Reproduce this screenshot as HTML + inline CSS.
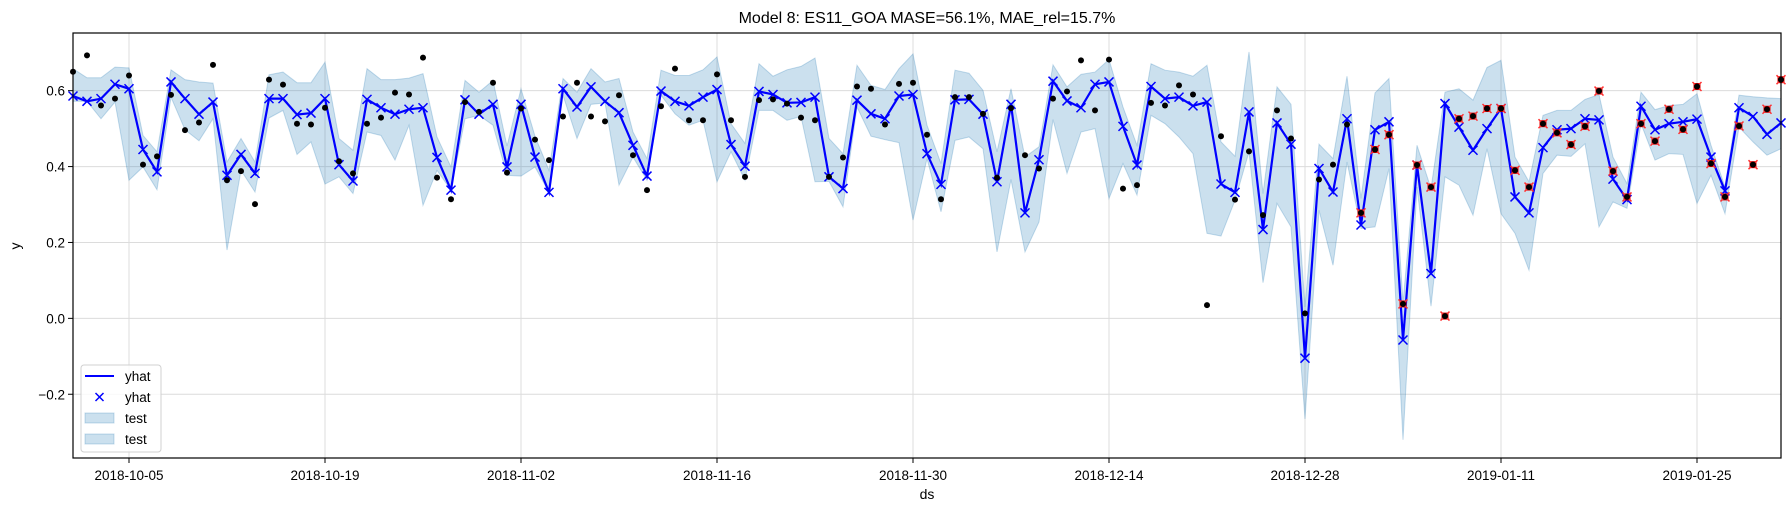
<!DOCTYPE html>
<html><head><meta charset="utf-8"><style>
body{margin:0;background:#fff;}
svg{display:block;font-family:"Liberation Sans","DejaVu Sans",sans-serif;}
</style></head><body>
<svg id="chart" width="1790" height="512" viewBox="0 0 1790 512" xmlns="http://www.w3.org/2000/svg">
<rect width="1790" height="512" fill="#fff"/>
<text x="927" y="23" text-anchor="middle" font-size="16" fill="#000">Model 8: ES11_GOA MASE=56.1%, MAE_rel=15.7%</text>
<text x="927" y="499" text-anchor="middle" font-size="14">ds</text>
<text x="20" y="246" text-anchor="middle" font-size="14" transform="rotate(-90 20 246)">y</text>
<g id="grid"></g><g id="band"></g><g id="line"></g><g id="pts"></g><g id="axes"></g>
</svg>
<script>
const startDate = "2018-10-01";
const yhat = [0.586,0.572,0.579,0.617,0.605,0.445,0.386,0.623,0.579,0.538,0.570,0.377,0.432,0.382,0.579,0.579,0.537,0.541,0.579,0.405,0.362,0.577,0.555,0.538,0.551,0.555,0.424,0.338,0.576,0.538,0.564,0.399,0.564,0.425,0.332,0.605,0.557,0.610,0.572,0.542,0.456,0.375,0.599,0.572,0.560,0.583,0.603,0.458,0.401,0.598,0.590,0.568,0.569,0.583,0.373,0.342,0.575,0.539,0.526,0.586,0.590,0.434,0.353,0.576,0.577,0.538,0.360,0.564,0.278,0.418,0.625,0.573,0.555,0.617,0.623,0.506,0.404,0.611,0.579,0.583,0.560,0.570,0.354,0.332,0.544,0.234,0.515,0.459,-0.105,0.395,0.333,0.526,0.246,0.497,0.518,-0.057,0.404,0.118,0.566,0.504,0.443,0.500,0.553,0.320,0.278,0.450,0.497,0.500,0.526,0.523,0.367,0.313,0.559,0.497,0.513,0.518,0.525,0.425,0.336,0.555,0.532,0.485,0.515];
const upper = [0.658,0.634,0.634,0.662,0.660,0.482,0.439,0.655,0.629,0.623,0.620,0.412,0.474,0.412,0.642,0.649,0.621,0.621,0.675,0.474,0.443,0.658,0.629,0.629,0.633,0.645,0.478,0.399,0.627,0.596,0.627,0.454,0.605,0.480,0.390,0.632,0.596,0.658,0.623,0.632,0.491,0.421,0.654,0.640,0.640,0.655,0.689,0.513,0.461,0.671,0.638,0.655,0.664,0.686,0.474,0.434,0.667,0.614,0.603,0.658,0.697,0.509,0.408,0.654,0.646,0.601,0.439,0.605,0.425,0.452,0.668,0.610,0.643,0.649,0.682,0.557,0.456,0.671,0.654,0.649,0.638,0.667,0.465,0.427,0.702,0.329,0.610,0.564,0.03,0.459,0.421,0.638,0.316,0.594,0.632,0.04,0.456,0.342,0.596,0.605,0.575,0.661,0.680,0.425,0.360,0.535,0.548,0.548,0.577,0.590,0.425,0.355,0.596,0.550,0.561,0.564,0.592,0.456,0.346,0.588,0.584,0.581,0.579];
const lower = [0.572,0.572,0.526,0.570,0.364,0.399,0.339,0.583,0.497,0.468,0.526,0.18,0.390,0.333,0.528,0.548,0.432,0.465,0.354,0.373,0.329,0.491,0.482,0.417,0.509,0.298,0.390,0.338,0.526,0.535,0.509,0.377,0.375,0.399,0.332,0.588,0.474,0.564,0.568,0.351,0.425,0.364,0.588,0.539,0.509,0.522,0.360,0.439,0.364,0.548,0.548,0.522,0.532,0.360,0.361,0.294,0.557,0.480,0.471,0.463,0.259,0.421,0.281,0.469,0.478,0.447,0.175,0.366,0.175,0.254,0.524,0.382,0.491,0.500,0.316,0.408,0.325,0.535,0.513,0.478,0.434,0.224,0.217,0.311,0.439,0.094,0.303,0.241,-0.265,0.285,0.140,0.412,0.237,0.241,0.395,-0.32,0.346,0.032,0.373,0.351,0.272,0.447,0.276,0.224,0.127,0.382,0.430,0.427,0.460,0.241,0.307,0.290,0.513,0.417,0.434,0.432,0.303,0.377,0.276,0.504,0.465,0.430,0.447];
const actual = [0.650,0.693,0.561,0.579,0.640,0.405,0.427,0.589,0.496,0.516,0.668,0.364,0.388,0.301,0.629,0.616,0.513,0.511,0.555,0.414,0.382,0.513,0.529,0.595,0.590,0.687,0.371,0.314,0.570,0.544,0.621,0.384,0.553,0.471,0.417,0.532,0.621,0.532,0.519,0.588,0.430,0.338,0.559,0.658,0.522,0.522,0.643,0.522,0.373,0.575,0.577,0.566,0.529,0.522,0.373,0.424,0.611,0.605,0.511,0.618,0.621,0.484,0.314,0.583,0.583,0.539,0.371,0.554,0.430,0.395,0.579,0.598,0.680,0.548,0.682,0.342,0.351,0.568,0.561,0.614,0.590,0.035,0.480,0.313,0.440,0.272,0.548,0.474,0.013,0.366,0.405,0.511,0.278,0.445,0.484,0.038,0.404,0.346,0.006,0.526,0.533,0.553,0.553,0.390,0.346,0.513,0.489,0.458,0.506,0.599,0.388,0.320,0.513,0.467,0.551,0.498,0.611,0.408,0.320,0.507,0.405,0.551,0.629];
const testStart = 92;
const yTicks = [-0.2,0.0,0.2,0.4,0.6];
const xTickLabels = ["2018-10-05","2018-10-19","2018-11-02","2018-11-16","2018-11-30","2018-12-14","2018-12-28","2019-01-11","2019-01-25"];

const L=73,R=1781,T=33,B=458, Y0=-0.368, Y1=0.752;
const t0=Date.parse(startDate+"T00:00:00Z"), nDays=yhat.length-1;
const xs=d=>L+(R-L)*d/nDays;
const xDate=s=>xs((Date.parse(s+"T00:00:00Z")-t0)/86400000);
const ys=v=>B-(B-T)*(v-Y0)/(Y1-Y0);
const NS="http://www.w3.org/2000/svg";
function mk(tag,attrs,parent){const e=document.createElementNS(NS,tag);for(const k in attrs)e.setAttribute(k,attrs[k]);parent.appendChild(e);return e;}
const grid=document.getElementById('grid'),band=document.getElementById('band'),line=document.getElementById('line'),pts=document.getElementById('pts'),axes=document.getElementById('axes');

yTicks.forEach(v=>{
  const y=ys(v);
  const g=mk('line',{x1:L,x2:R,y1:y,y2:y,stroke:'#dcdcdc','stroke-width':1},grid);
  
  
  mk('line',{x1:L-5,x2:L,y1:y,y2:y,stroke:'#000'},axes);
  const t=mk('text',{x:L-8,y:y+5,'text-anchor':'end','font-size':13.5},axes);
  t.textContent=v.toFixed(1).replace('-','\u2212');
  
  
});
xTickLabels.forEach(s=>{
  const x=xDate(s);
  const g=mk('line',{x1:x,x2:x,y1:T,y2:B,stroke:'#dcdcdc','stroke-width':1},grid);
  
  
  mk('line',{x1:x,x2:x,y1:B,y2:B+5,stroke:'#000'},axes);
  const t=mk('text',{x:x,y:B+22,'text-anchor':'middle','font-size':13.5},axes);
  t.textContent=s;
  
  
});

let p='';
upper.forEach((v,i)=>{p+=(i?'L':'M')+xs(i)+','+ys(v);});
for(let i=lower.length-1;i>=0;i--)p+='L'+xs(i)+','+ys(lower[i]);
const bp=mk('path',{d:p+'Z',fill:'rgba(31,119,180,0.23)',stroke:'rgba(31,119,180,0.25)','stroke-width':1},band);



const lp=mk('polyline',{points:yhat.map((v,i)=>xs(i)+','+ys(v)).join(' '),fill:'none',stroke:'#0000ff','stroke-width':2.2},line);


yhat.forEach((v,i)=>{
  const x=xs(i),y=ys(v),s=4.5;
  const m=mk('path',{d:`M${x-s},${y-s}L${x+s},${y+s}M${x-s},${y+s}L${x+s},${y-s}`,stroke:'#0000ff','stroke-width':1.5,fill:'none'},line);
  
  
});
actual.forEach((v,i)=>{
  const x=xs(i),y=ys(v);
  if(i>=testStart){
    const r=mk('rect',{x:x-3.5,y:y-3.5,width:7,height:7,fill:'#e00000'},pts);
    
    
    const m=mk('path',{d:`M${x-4.5},${y-4.5}L${x+4.5},${y+4.5}M${x-4.5},${y+4.5}L${x+4.5},${y-4.5}`,stroke:'#ff3030','stroke-width':1.5},pts);
    
    
  }
  const c=mk('circle',{cx:x,cy:y,r:3,fill:'#000'},pts);
  
  
});
const fr=mk('rect',{x:L,y:T,width:R-L,height:B-T,fill:'none',stroke:'#000','stroke-width':1.2},axes);



const lg=mk('g',{},axes);


mk('rect',{x:81,y:365,width:80,height:87,rx:3,fill:'rgba(255,255,255,0.8)',stroke:'#d0d0d0'},lg);
const items=[['line','yhat'],['x','yhat'],['fill','test'],['fill','test']];
items.forEach((it,k)=>{
  const y=376+k*21;
  if(it[0]==='line')mk('line',{x1:85,x2:114,y1:y,y2:y,stroke:'#0000ff','stroke-width':2},lg);
  else if(it[0]==='x')mk('path',{d:`M95.5,${y-4}L103.5,${y+4}M95.5,${y+4}L103.5,${y-4}`,stroke:'#0000ff','stroke-width':1.5},lg);
  else mk('rect',{x:85,y:y-5,width:29,height:10,fill:'rgba(31,119,180,0.23)',stroke:'rgba(31,119,180,0.25)'},lg);
  const t=mk('text',{x:125,y:y+5,'font-size':13.5},lg);
  t.textContent=it[1];
  
  
});
</script>
</body></html>
